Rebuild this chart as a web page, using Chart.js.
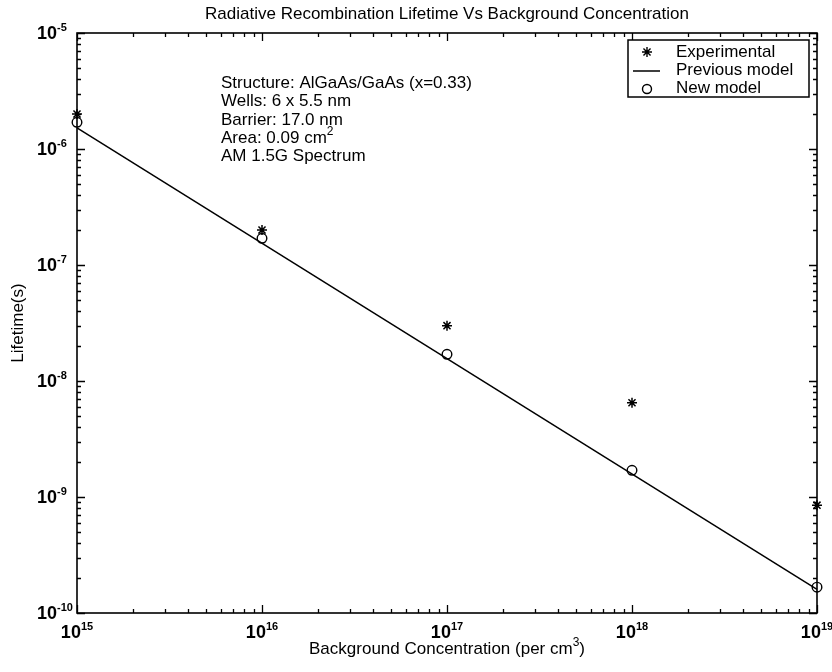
<!DOCTYPE html>
<html>
<head>
<meta charset="utf-8">
<script src="https://cdn.jsdelivr.net/npm/chart.js@4/dist/chart.umd.min.js"></script>
<style>
  body { margin: 0; background: #fff; }
  canvas { display: block; }
</style>
</head>
<body>
<canvas id="lifetimeChart" width="832" height="672"></canvas>
<script>
// data
const concentration = [1e15, 1e16, 1e17, 1e18, 1e19];
const experimental = [2.0e-6, 2.0e-7, 3.0e-8, 6.5e-9, 8.5e-10];
const newModel = [1.7e-6, 1.7e-7, 1.7e-8, 1.7e-9, 1.67e-10];
const previousX = [1e15, 1e19];
const previousY = [1.52e-6, 1.6e-10];
const xTickExps = [15, 16, 17, 18, 19];
const yTickExps = [-10, -9, -8, -7, -6, -5];
const infoLines = [
    ["Structure: AlGaAs/GaAs (x=0.33)", "", ""],
    ["Wells: 6 x 5.5 nm", "", ""],
    ["Barrier: 17.0 nm", "", ""],
    ["Area: 0.09 cm", "2", ""],
    ["AM 1.5G Spectrum", "", ""]
];
const legendLabels = ["Experimental", "Previous model", "New model"];

const FONT = "'Liberation Sans', Arial, sans-serif";

// draws base + superscript + tail, returns nothing
function textWithSup(ctx, base, sup, tail, x, y, size, supSize, weight, align) {
    ctx.font = weight + " " + size + "px " + FONT;
    const w1 = ctx.measureText(base).width;
    const w3 = tail ? ctx.measureText(tail).width : 0;
    ctx.font = weight + " " + supSize + "px " + FONT;
    const w2 = sup ? ctx.measureText(sup).width : 0;
    let start = x;
    if (align === 'center') start = x - (w1 + w2 + w3) / 2;
    ctx.textAlign = 'left';
    ctx.textBaseline = 'alphabetic';
    ctx.font = weight + " " + size + "px " + FONT;
    ctx.fillText(base, start, y);
    if (tail) ctx.fillText(tail, start + w1 + w2, y);
    if (sup) {
        ctx.font = weight + " " + supSize + "px " + FONT;
        ctx.fillText(sup, start + w1, y - size * 0.45);
    }
}

const axesPlugin = {
    id: 'axesPlugin',
    beforeDatasetsDraw(chart) {
        const ctx = chart.ctx;
        const a = chart.chartArea;
        const xs = chart.scales.x;
        const ys = chart.scales.y;
        ctx.save();
        ctx.strokeStyle = '#000';
        ctx.lineWidth = 1.6;
        ctx.strokeRect(a.left, a.top, a.right - a.left, a.bottom - a.top);

        ctx.lineWidth = 1.3;
        ctx.beginPath();
        for (let e = xTickExps[0]; e <= xTickExps[xTickExps.length - 1]; e++) {
            for (let m = 1; m <= 9; m++) {
                const v = m * Math.pow(10, e);
                if (v > xs.max * 1.0001) break;
                const px = Math.round(xs.getPixelForValue(v)) + 0.5;
                const len = m === 1 ? 8 : 4;
                ctx.moveTo(px, a.bottom); ctx.lineTo(px, a.bottom - len);
                ctx.moveTo(px, a.top); ctx.lineTo(px, a.top + len);
            }
        }
        for (let e = yTickExps[0]; e <= yTickExps[yTickExps.length - 1]; e++) {
            for (let m = 1; m <= 9; m++) {
                const v = m * Math.pow(10, e);
                if (v > ys.max * 1.0001) break;
                const py = Math.round(ys.getPixelForValue(v)) + 0.5;
                const len = m === 1 ? 8 : 4;
                ctx.moveTo(a.left, py); ctx.lineTo(a.left + len, py);
                ctx.moveTo(a.right, py); ctx.lineTo(a.right - len, py);
            }
        }
        ctx.stroke();

        ctx.fillStyle = '#000';
        xTickExps.forEach(function (e) {
            const px = xs.getPixelForValue(Math.pow(10, e));
            textWithSup(ctx, "10", String(e), "", px, a.bottom + 25, 18, 11, 'bold', 'center');
        });
        yTickExps.forEach(function (e) {
            const py = ys.getPixelForValue(Math.pow(10, e));
            textWithSup(ctx, "10", String(e), "", 37, py + 6, 18, 11, 'bold', 'left');
        });

        // titles
        ctx.font = "17px " + FONT;
        ctx.textAlign = 'center';
        ctx.fillText("Radiative Recombination Lifetime Vs Background Concentration", (a.left + a.right) / 2, 19);
        textWithSup(ctx, "Background Concentration (per cm", "3", ")", (a.left + a.right) / 2, 654, 17, 12, 'normal', 'center');
        ctx.save();
        ctx.translate(23, (a.top + a.bottom) / 2);
        ctx.rotate(-Math.PI / 2);
        ctx.textAlign = 'center';
        ctx.font = "17px " + FONT;
        ctx.fillText("Lifetime(s)", 0, 0);
        ctx.restore();
        ctx.restore();
    },
    afterDraw(chart) {
        const ctx = chart.ctx;
        ctx.save();
        ctx.fillStyle = '#000';
        ctx.strokeStyle = '#000';
        infoLines.forEach(function (l, i) {
            textWithSup(ctx, l[0], l[1], l[2], 221, 88 + i * 18.3, 17, 12, 'normal', 'left');
        });

        // legend
        ctx.lineWidth = 1.5;
        ctx.fillStyle = '#fff';
        ctx.fillRect(628, 40, 181, 57);
        ctx.strokeRect(628, 40, 181, 57);
        ctx.fillStyle = '#000';
        ctx.font = "17px " + FONT;
        ctx.textAlign = 'left';
        legendLabels.forEach(function (t, i) {
            ctx.fillText(t, 676, 57 + i * 18);
        });
        const sx = 647, sy = 52, r = 5;
        ctx.lineWidth = 1.4;
        ctx.beginPath();
        ctx.moveTo(sx - r, sy); ctx.lineTo(sx + r, sy);
        ctx.moveTo(sx, sy - r); ctx.lineTo(sx, sy + r);
        const d = r * 0.707;
        ctx.moveTo(sx - d, sy - d); ctx.lineTo(sx + d, sy + d);
        ctx.moveTo(sx - d, sy + d); ctx.lineTo(sx + d, sy - d);
        ctx.moveTo(633, 71); ctx.lineTo(660, 71);
        ctx.stroke();
        ctx.beginPath();
        ctx.arc(647, 89, 4.5, 0, Math.PI * 2);
        ctx.stroke();
        ctx.restore();
    }
};

new Chart(document.getElementById('lifetimeChart'), {
    type: 'scatter',
    data: {
        datasets: [
            {
                label: 'Previous model',
                data: previousX.map(function (x, i) { return { x: x, y: previousY[i] }; }),
                showLine: true,
                borderColor: '#000',
                borderWidth: 1.5,
                pointRadius: 0,
                clip: false
            },
            {
                label: 'New model',
                data: concentration.map(function (x, i) { return { x: x, y: newModel[i] }; }),
                pointStyle: 'circle',
                pointRadius: 4.8,
                borderColor: '#000',
                backgroundColor: 'rgba(0,0,0,0)',
                borderWidth: 1.4,
                clip: false
            },
            {
                label: 'Experimental',
                data: concentration.map(function (x, i) { return { x: x, y: experimental[i] }; }),
                pointStyle: 'star',
                pointRadius: 5,
                borderColor: '#000',
                backgroundColor: '#000',
                borderWidth: 1.5,
                clip: false
            }
        ]
    },
    options: {
        responsive: false,
        animation: false,
        devicePixelRatio: 1,
        layout: { padding: { left: 77, right: 15, top: 33, bottom: 59 } },
        scales: {
            x: { type: 'logarithmic', min: 1e15, max: 1e19, display: false },
            y: { type: 'logarithmic', min: 1e-10, max: 1e-5, display: false }
        },
        plugins: {
            legend: { display: false },
            tooltip: { enabled: false }
        }
    },
    plugins: [axesPlugin]
});
</script>
</body>
</html>
